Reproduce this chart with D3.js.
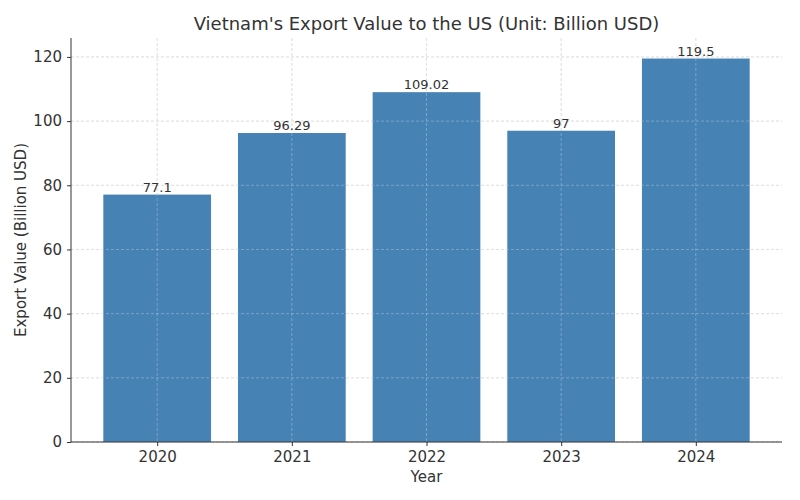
<!DOCTYPE html>
<html>
<head>
<meta charset="utf-8">
<script src="https://cdn.jsdelivr.net/npm/d3@7"></script>
<style>body{margin:0;background:#fff}</style>
</head>
<body>
<script>
var years = ["2020", "2021", "2022", "2023", "2024"];
var values = [77.1, 96.29, 109.02, 97, 119.5];
var labels = ["77.1", "96.29", "109.02", "97", "119.5"];
var yTicks = [0, 20, 40, 60, 80, 100, 120];

var W = 800, H = 500, mLeft = 71, mRight = 782, mTop = 38, mBottom = 442;
var svg = d3.select("body").append("svg").attr("width", W).attr("height", H)
    .style("font-family", "DejaVu Sans");

var x = d3.scaleLinear().domain([-0.64, years.length - 1 + 0.64]).range([mLeft, mRight]);
var y = d3.scaleLinear().domain([0, 125.9]).range([mBottom, mTop]);

function grid(color, op) {
    svg.append("g").selectAll("line").data(yTicks).enter().append("line")
        .attr("x1", mLeft).attr("x2", mRight).attr("y1", d => y(d)).attr("y2", d => y(d))
        .attr("stroke", color).attr("stroke-opacity", op).attr("stroke-dasharray", "3,2").attr("stroke-width", 0.8);
    svg.append("g").selectAll("line").data(years).enter().append("line")
        .attr("x1", (d, i) => x(i)).attr("x2", (d, i) => x(i)).attr("y1", mTop).attr("y2", mBottom)
        .attr("stroke", color).attr("stroke-opacity", op).attr("stroke-dasharray", "3,2").attr("stroke-width", 0.8);
}
grid("#ccc", 1);

// bars
svg.append("g").selectAll("rect").data(values).enter().append("rect")
    .attr("x", (d, i) => x(i - 0.4)).attr("width", x(0.8) - x(0))
    .attr("y", d => y(d)).attr("height", d => mBottom - y(d))
    .attr("fill", "#4682b4");

grid("#fff", 0.35);

// value labels
svg.append("g").selectAll("text").data(values).enter().append("text")
    .attr("x", (d, i) => x(i)).attr("y", d => y(d) - 3)
    .attr("text-anchor", "middle").attr("font-size", 13).attr("fill", "#333")
    .text((d, i) => labels[i]);

// axes
var yAxis = svg.append("g").attr("transform", "translate(" + mLeft + ",0)")
    .call(d3.axisLeft(y).tickValues(yTicks).tickSize(4).tickPadding(5));
var xAxis = svg.append("g").attr("transform", "translate(0," + mBottom + ")")
    .call(d3.axisBottom(x).tickValues(d3.range(years.length)).tickFormat(i => years[i]).tickSize(4).tickPadding(5));
[yAxis, xAxis].forEach(a => {
    a.selectAll("text").attr("font-size", 15).attr("fill", "#333").style("font-family", "DejaVu Sans");
    a.selectAll("line").attr("stroke", "#333");
    a.select(".domain").attr("stroke", "#333");
});
xAxis.select(".domain").attr("d", "M" + mLeft + ",0H" + mRight);
yAxis.select(".domain").attr("d", "M0," + mBottom + "V" + mTop);

svg.append("text").attr("x", (mLeft + mRight) / 2).attr("y", 482).attr("text-anchor", "middle")
    .attr("font-size", 15).attr("fill", "#333").text("Year");
svg.append("text").attr("transform", "translate(26," + (mTop + mBottom) / 2 + ") rotate(-90)")
    .attr("text-anchor", "middle").attr("font-size", 15).attr("fill", "#333").text("Export Value (Billion USD)");
svg.append("text").attr("x", (mLeft + mRight) / 2).attr("y", 30).attr("text-anchor", "middle")
    .attr("font-size", 18).attr("fill", "#333").text("Vietnam's Export Value to the US (Unit: Billion USD)");
</script>
</body>
</html>
